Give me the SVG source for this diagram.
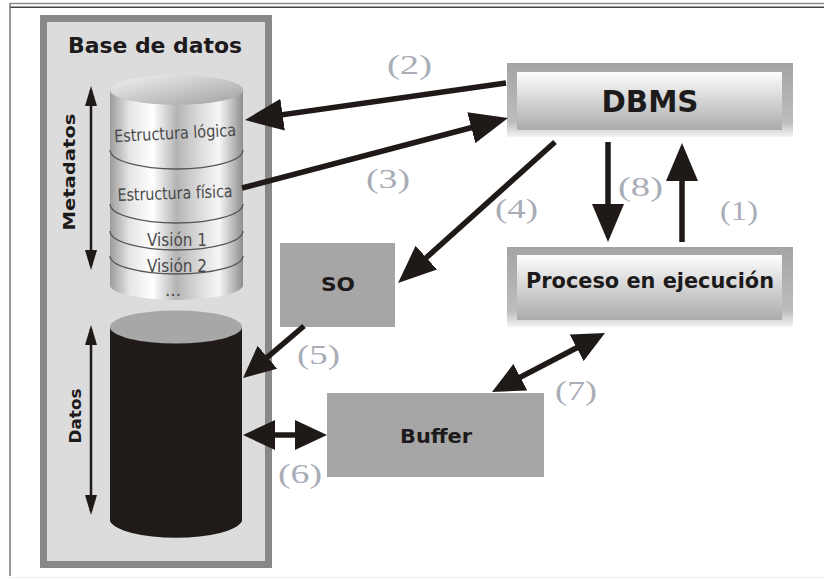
<svg xmlns="http://www.w3.org/2000/svg" width="824" height="579" viewBox="0 0 824 579">
<defs>
<style>
.lbl{font-family:"Liberation Serif","DejaVu Serif",serif;font-size:27px;fill:#a9adb7}
.bold{font-family:"DejaVu Sans","Liberation Sans",sans-serif;font-weight:bold;fill:#1c1a1a}
.cyl{font-family:"DejaVu Sans","Liberation Sans",sans-serif;font-size:17px;fill:#4a4a4a}
.ln{stroke:#1f1a17;stroke-width:5.5;fill:none}
.band{stroke:#555;stroke-width:1.3;fill:none}
.box{fill:#a6a6a6}
</style>
<marker id="ah" markerUnits="userSpaceOnUse" markerWidth="38" markerHeight="32" refX="30" refY="16" orient="auto-start-reverse">
<path d="M0,0 L38,16 L0,32 Z" fill="#1f1a17"/>
</marker>
<marker id="as" markerUnits="userSpaceOnUse" markerWidth="32" markerHeight="30" refX="24" refY="15" orient="auto-start-reverse">
<path d="M0,0 L32,15 L0,30 Z" fill="#1f1a17"/>
</marker>
<marker id="at" markerUnits="userSpaceOnUse" markerWidth="20" markerHeight="12" refX="16" refY="6" orient="auto-start-reverse">
<path d="M0,0 L20,6 L0,12 Z" fill="#1f1a17"/>
</marker>
<linearGradient id="silver" x1="0" y1="0" x2="1" y2="0">
<stop offset="0" stop-color="#9c9c9c"/>
<stop offset="0.15" stop-color="#e6e6e6"/>
<stop offset="0.32" stop-color="#ffffff"/>
<stop offset="0.5" stop-color="#b4b4b4"/>
<stop offset="0.68" stop-color="#dcdcdc"/>
<stop offset="0.82" stop-color="#f7f7f7"/>
<stop offset="1" stop-color="#8e8e8e"/>
</linearGradient>
<linearGradient id="topg" x1="0" y1="0" x2="1" y2="1">
<stop offset="0" stop-color="#f2f2f2"/>
<stop offset="1" stop-color="#a0a0a0"/>
</linearGradient>
<linearGradient id="frame" x1="0" y1="0" x2="0" y2="1">
<stop offset="0" stop-color="#a4a4a4"/>
<stop offset="0.8" stop-color="#bdbdbd"/>
<stop offset="1" stop-color="#f4f4f4"/>
</linearGradient>
<linearGradient id="inner" x1="0" y1="0" x2="0" y2="1">
<stop offset="0" stop-color="#fdfdfd"/>
<stop offset="1" stop-color="#ababab"/>
</linearGradient>
</defs>
<rect width="824" height="579" fill="#ffffff"/>
<g id="frame-border">
<line x1="10" y1="3.5" x2="824" y2="3.5" stroke="#8a8a8a" stroke-width="1.5"/>
<line x1="10" y1="7.3" x2="824" y2="7.3" stroke="#444" stroke-width="1.5"/>
<line x1="10" y1="3" x2="10" y2="576" stroke="#777" stroke-width="1.5"/>
<line x1="10" y1="577.5" x2="824" y2="577.5" stroke="#eeeeee" stroke-width="1"/>
</g>
<g id="base-de-datos">
<rect x="43.5" y="18.5" width="225" height="546" fill="#dcdcdc" stroke="#888" stroke-width="7"/>
<text class="bold" x="155" y="53" font-size="21" text-anchor="middle" textLength="174" lengthAdjust="spacingAndGlyphs">Base de datos</text>
</g>
<g id="metadatos-cylinder">
<path d="M110,90 L110,285 A66.5,15 0 0 0 243,285 L243,90 Z" fill="url(#silver)"/>
<ellipse cx="176.5" cy="90" rx="66.5" ry="15" fill="url(#topg)"/>
<path class="band" d="M110,150 A66.5,19 0 0 0 243,150"/>
<path class="band" d="M110,204 A66.5,19 0 0 0 243,204"/>
<path class="band" d="M110,231 A66.5,19 0 0 0 243,231"/>
<path class="band" d="M110,256 A66.5,18 0 0 0 243,256"/>
<text class="cyl" x="175" y="139" text-anchor="middle" textLength="122" lengthAdjust="spacingAndGlyphs" transform="rotate(-3 175 133)">Estructura lógica</text>
<text class="cyl" x="175" y="199" text-anchor="middle" textLength="115" lengthAdjust="spacingAndGlyphs" transform="rotate(-2 175 193)">Estructura física</text>
<text class="cyl" x="177" y="246" text-anchor="middle" font-size="18" textLength="60" lengthAdjust="spacingAndGlyphs">Visión 1</text>
<text class="cyl" x="177" y="272" text-anchor="middle" font-size="18" textLength="60" lengthAdjust="spacingAndGlyphs">Visión 2</text>
<text class="cyl" x="173" y="296" text-anchor="middle" font-size="11" fill="#8a94a8">...</text>
</g>
<g id="metadatos-label">
<line x1="91" y1="90" x2="91" y2="266" stroke="#1f1a17" stroke-width="2.5" marker-start="url(#at)" marker-end="url(#at)"/>
<text class="bold" font-size="16" text-anchor="middle" transform="translate(75 172) rotate(-90)" textLength="117" lengthAdjust="spacingAndGlyphs">Metadatos</text>
</g>
<g id="datos-cylinder">
<path d="M110,327 L110,521 A66.5,19 0 0 0 242,521 L242,327 Z" fill="#201b18"/>
<ellipse cx="176" cy="327" rx="66" ry="16.5" fill="#a7a7a7"/>
</g>
<g id="datos-label">
<line x1="91" y1="329" x2="91" y2="511" stroke="#1f1a17" stroke-width="2.5" marker-start="url(#at)" marker-end="url(#at)"/>
<text class="bold" font-size="16" text-anchor="middle" transform="translate(81 416) rotate(-90)" textLength="55" lengthAdjust="spacingAndGlyphs">Datos</text>
</g>
<g id="dbms">
<rect x="507" y="63" width="286" height="74" fill="url(#frame)"/>
<rect x="517" y="72" width="265" height="58" fill="url(#inner)"/>
<text class="bold" x="650" y="112" font-size="31" text-anchor="middle" textLength="97" lengthAdjust="spacingAndGlyphs">DBMS</text>
</g>
<g id="proceso">
<rect x="507" y="247" width="286" height="80" fill="url(#frame)"/>
<rect x="517" y="255" width="265" height="65" fill="url(#inner)"/>
<text class="bold" x="650" y="288" font-size="22" text-anchor="middle" textLength="248" lengthAdjust="spacingAndGlyphs">Proceso en ejecución</text>
</g>
<g id="so">
<rect class="box" x="280" y="243" width="115" height="84"/>
<text class="bold" x="338" y="291" font-size="19" text-anchor="middle" textLength="34" lengthAdjust="spacingAndGlyphs">SO</text>
</g>
<g id="buffer">
<rect class="box" x="327" y="393" width="217" height="84"/>
<text class="bold" x="436" y="443" font-size="20" text-anchor="middle" textLength="72" lengthAdjust="spacingAndGlyphs">Buffer</text>
</g>
<g id="connectors">
<line class="ln" x1="506" y1="83" x2="252.9" y2="118.9" marker-end="url(#ah)"/>
<line class="ln" x1="242" y1="188" x2="500.3" y2="120" marker-end="url(#ah)"/>
<line class="ln" x1="555" y1="142" x2="404" y2="277.7" marker-end="url(#ah)"/>
<line class="ln" x1="304" y1="326" x2="249.1" y2="372.8" marker-end="url(#as)"/>
<line class="ln" x1="251" y1="435" x2="319" y2="435" marker-start="url(#as)" marker-end="url(#as)"/>
<line class="ln" x1="499.1" y1="388.3" x2="597.9" y2="336.7" marker-start="url(#as)" marker-end="url(#as)"/>
<line class="ln" x1="608" y1="142" x2="608" y2="234" marker-end="url(#ah)"/>
<line class="ln" x1="682" y1="242" x2="682" y2="151" marker-end="url(#ah)"/>
</g>
<g id="labels">
<text class="lbl" x="387" y="74" textLength="45" lengthAdjust="spacingAndGlyphs">(2)</text>
<text class="lbl" x="366" y="188" textLength="44" lengthAdjust="spacingAndGlyphs">(3)</text>
<text class="lbl" x="495" y="218" textLength="43" lengthAdjust="spacingAndGlyphs">(4)</text>
<text class="lbl" x="618" y="196" textLength="45" lengthAdjust="spacingAndGlyphs">(8)</text>
<text class="lbl" x="720" y="220" textLength="38" lengthAdjust="spacingAndGlyphs">(1)</text>
<text class="lbl" x="297" y="364" textLength="43" lengthAdjust="spacingAndGlyphs">(5)</text>
<text class="lbl" x="278" y="483" textLength="44" lengthAdjust="spacingAndGlyphs">(6)</text>
<text class="lbl" x="555" y="400" textLength="42" lengthAdjust="spacingAndGlyphs">(7)</text>
</g>
</svg>
